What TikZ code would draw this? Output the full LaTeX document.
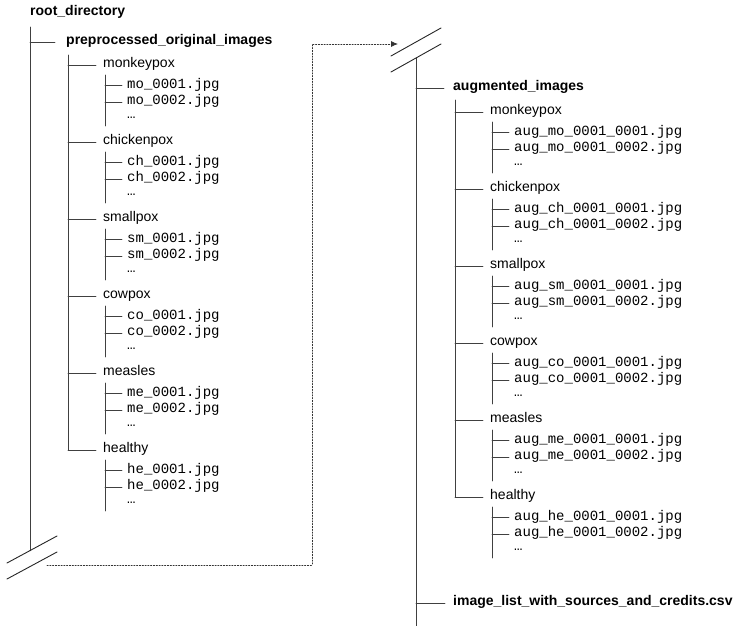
\documentclass[tikz,border=0pt]{standalone}
\usepackage{fontspec}
\setmainfont{Liberation Sans}
\setmonofont{Liberation Mono}
\usetikzlibrary{arrows.meta}
\tikzset{
  folder/.style={anchor=mid west,inner sep=0pt,font=\fontsize{14}{16}\selectfont},
  topfolder/.style={folder,font=\fontsize{14}{16}\selectfont\bfseries},
  fname/.style={anchor=mid west,inner sep=0pt,font=\fontsize{14}{16}\selectfont\ttfamily},
  branch/.style={black!75,line width=.9pt},
  cut/.style={black!85,line width=.9pt}
}
\begin{document}
\begin{tikzpicture}[x=1pt,y=-1pt,>={Latex[length=7pt,width=6pt]},line cap=round]
  \useasboundingbox (0,0) rectangle (734,626);
  \def\gap{77}
  % left tree
  \node[topfolder] (root) at (30,13) {root\_directory};
  \node[topfolder] (orig) at (66,42) {preprocessed\_original\_images};
  \coordinate (ltop) at (30,27);
  \coordinate (lsub) at (68,55);
  \coordinate (lcut) at (30,550.6);
  \draw[branch] (ltop) -- (lcut);
  \draw[branch] ([xshift=-11pt]orig.mid west) -- (orig.mid west -| ltop);
  \foreach \g/\p [count=\i from 0] in {monkeypox/mo,chickenpox/ch,smallpox/sm,cowpox/co,measles/me,healthy/he}{
    \pgfmathsetmacro\y{65+\gap*\i}
    \node[folder] (l\i) at (103,\y) {\g};
    \node[fname] (la\i) at (127,\y+20.5) {\p\_0001.jpg};
    \node[fname] (lb\i) at (127,\y+37) {\p\_0002.jpg};
    \node[fname] (lc\i) at (127,\y+51) {…};
    \coordinate (ls\i) at (105,\y+10);
    \coordinate (le\i) at (105,\y+61);
    \draw[branch] ([xshift=-7pt]l\i.mid west) -- (l\i.mid west -| lsub);
    \draw[branch] (ls\i) -- (le\i);
    \draw[branch] ([xshift=-5pt]la\i.mid west) -- (la\i.mid west -| ls\i);
    \draw[branch] ([xshift=-5pt]lb\i.mid west) -- (lb\i.mid west -| ls\i);
  }
  \draw[branch] (lsub) -- (l5.mid west -| lsub);
  \draw[cut] (7,563) -- (57,536);
  \draw[cut] (7,579) -- (57,552);
  % right tree
  \node[topfolder] (aug) at (453,88) {augmented\_images};
  \node[topfolder] (csv) at (453,603) {image\_list\_with\_sources\_and\_credits.csv};
  \coordinate (rtop) at (416,58);
  \coordinate (rsub) at (455,100);
  \coordinate (rend) at (416,626);
  \draw[branch] (rtop) -- (rend);
  \draw[branch] ([xshift=-9pt]aug.mid west) -- (aug.mid west -| rtop);
  \draw[branch] ([xshift=-8pt]csv.mid west) -- (csv.mid west -| rtop);
  \foreach \g/\p [count=\i from 0] in {monkeypox/mo,chickenpox/ch,smallpox/sm,cowpox/co,measles/me,healthy/he}{
    \pgfmathsetmacro\y{112+\gap*\i}
    \node[folder] (r\i) at (490,\y) {\g};
    \node[fname] (ra\i) at (514,\y+20.5) {aug\_\p\_0001\_0001.jpg};
    \node[fname] (rb\i) at (514,\y+37) {aug\_\p\_0001\_0002.jpg};
    \node[fname] (rc\i) at (514,\y+51) {…};
    \coordinate (rs\i) at (492,\y+10);
    \coordinate (re\i) at (492,\y+61);
    \draw[branch] ([xshift=-7pt]r\i.mid west) -- (r\i.mid west -| rsub);
    \draw[branch] (rs\i) -- (re\i);
    \draw[branch] ([xshift=-5pt]ra\i.mid west) -- (ra\i.mid west -| rs\i);
    \draw[branch] ([xshift=-5pt]rb\i.mid west) -- (rb\i.mid west -| rs\i);
  }
  \draw[branch] (rsub) -- (r5.mid west -| rsub);
  \draw[cut] (391,56) -- (441,28);
  \draw[cut] (391,72) -- (441,44);
  % link between the two cuts
  \coordinate (from) at (47,565);
  \coordinate (to) at (398,44);
  \draw[black!80,line width=.8pt,dash pattern=on 1.2pt off 1.6pt,->] (from) -| (312,44) -- (to);
\end{tikzpicture}
\end{document}
